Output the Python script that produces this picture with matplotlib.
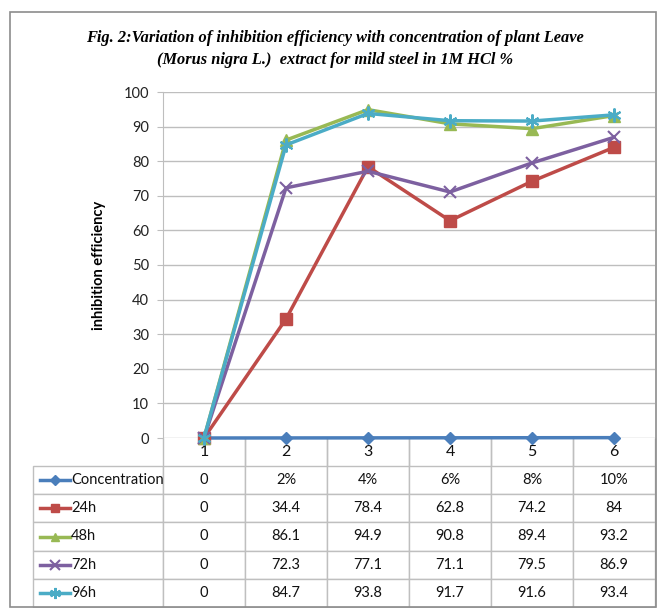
import matplotlib
matplotlib.use("Agg")
import matplotlib.pyplot as plt
from matplotlib.lines import Line2D
from matplotlib.patches import Rectangle

# ---- data ----
categories = [1, 2, 3, 4, 5, 6]
conc_values = [0, 0.02, 0.04, 0.06, 0.08, 0.10]
conc_labels = ["0", "2%", "4%", "6%", "8%", "10%"]
h24 = [0, 34.4, 78.4, 62.8, 74.2, 84]
h48 = [0, 86.1, 94.9, 90.8, 89.4, 93.2]
h72 = [0, 72.3, 77.1, 71.1, 79.5, 86.9]
h96 = [0, 84.7, 93.8, 91.7, 91.6, 93.4]
series_names = ["Concentration", "24h", "48h", "72h", "96h"]
yticks = [0, 10, 20, 30, 40, 50, 60, 70, 80, 90, 100]

W, H = 657, 608
fig = plt.figure(figsize=(W / 100, H / 100), dpi=100)
fig.patch.set_facecolor("white")

# outer frame
fig.add_artist(Rectangle((10 / W, 0.002), (W - 11) / W, 1 - 12 / H - 0.002,
                         transform=fig.transFigure, fill=False,
                         edgecolor="#8c8c8c", lw=1.2))

L, R, T, B = 163, 655, 92, 438
ax = fig.add_axes([L / W, 1 - B / H, (R - L) / W, (B - T) / H])

font = ["Lato", "DejaVu Sans"]
styles = [
    dict(color="#4A7EBB", marker="D", ms=6),
    dict(color="#BE4B48", marker="s", ms=8),
    dict(color="#98B954", marker="^", ms=8),
    dict(color="#7D60A0", marker="x", ms=9, mew=1.5),
    dict(color="#4BACC6", marker=(6, 2, 0), ms=10, mew=1.5),
]
data = [conc_values, h24, h48, h72, h96]
for vals, st in zip(data, styles):
    ax.plot(categories, vals, lw=2.5, **st, clip_on=False, zorder=3)

ax.set_xlim(0.5, 6.5)
ax.set_ylim(0, 100)
ax.set_yticks(yticks)
ax.set_yticklabels([str(t) for t in yticks], fontfamily=font, fontsize=10.5,
                   color="#222222")
ax.set_xticks([])
ax.grid(axis="y", color="#BEBEBE", lw=1)
ax.set_axisbelow(True)
for s in ["top", "right", "bottom"]:
    ax.spines[s].set_visible(False)
ax.spines["left"].set_color("#BEBEBE")
ax.tick_params(axis="y", length=4, color="#BEBEBE", pad=6)

ax.set_ylabel("inhibition efficiency", fontfamily=font, fontsize=10.5,
              fontweight="bold", labelpad=13)

# ---- data table ----
ax_h = B - T
ax_w = R - L
tab_left = 33
hdr_h = 28
row_h = 28.2
cell_text = [conc_labels] + [[("%g" % v) for v in s] for s in (h24, h48, h72, h96)]
col_labels = [str(c) for c in categories]
lab_w = (L - tab_left) / ax_w
dat_w = 1.0 / 6
table = ax.table(cellText=[[""] + r for r in cell_text],
                 colLabels=[""] + col_labels,
                 colWidths=[lab_w] + [dat_w] * 6,
                 cellLoc="center",
                 bbox=[-lab_w, -(hdr_h + 5 * row_h) / ax_h, 1 + lab_w,
                       (hdr_h + 5 * row_h) / ax_h])
table.auto_set_font_size(False)
for (r, c), cell in table.get_celld().items():
    cell.set_edgecolor("#BFBFBF")
    cell.set_linewidth(1)
    cell.get_text().set_fontfamily(font)
    cell.get_text().set_fontsize(10.5)
    cell.get_text().set_color("#111111")
    if r == 0:
        cell.set_height(hdr_h)
        cell.visible_edges = "" if c == 0 else "LR"
        cell.get_text().set_fontsize(11.5)
    else:
        cell.set_height(row_h)

# legend keys in label column
for i, (name, st) in enumerate(zip(series_names, styles)):
    yc = -(hdr_h + (i + 0.5) * row_h) / ax_h
    x0 = (40 - L) / ax_w
    x1 = (70 - L) / ax_w
    ax.add_line(Line2D([x0, x1], [yc, yc], transform=ax.transAxes,
                       color=st["color"], lw=2.5, clip_on=False))
    ax.add_line(Line2D([(x0 + x1) / 2], [yc], transform=ax.transAxes,
                       color=st["color"], marker=st["marker"],
                       ms=st["ms"] * 0.8, mew=st.get("mew", 1),
                       clip_on=False))
    ax.text((71 - L) / ax_w, yc, name, transform=ax.transAxes,
            ha="left", va="center", fontfamily=font, fontsize=10.5,
            color="#111111")

fig.text(335 / W, 1 - 38 / H,
         "Fig. 2:Variation of inhibition efficiency with concentration of plant Leave",
         ha="center", va="center", fontfamily="Liberation Serif",
         fontstyle="italic", fontweight="bold", fontsize=11.8)
fig.text(335 / W, 1 - 60 / H,
         "(Morus nigra L.)  extract for mild steel in 1M HCl %",
         ha="center", va="center", fontfamily="Liberation Serif",
         fontstyle="italic", fontweight="bold", fontsize=11.8)

fig.savefig("out.png", dpi=100, facecolor="white")
